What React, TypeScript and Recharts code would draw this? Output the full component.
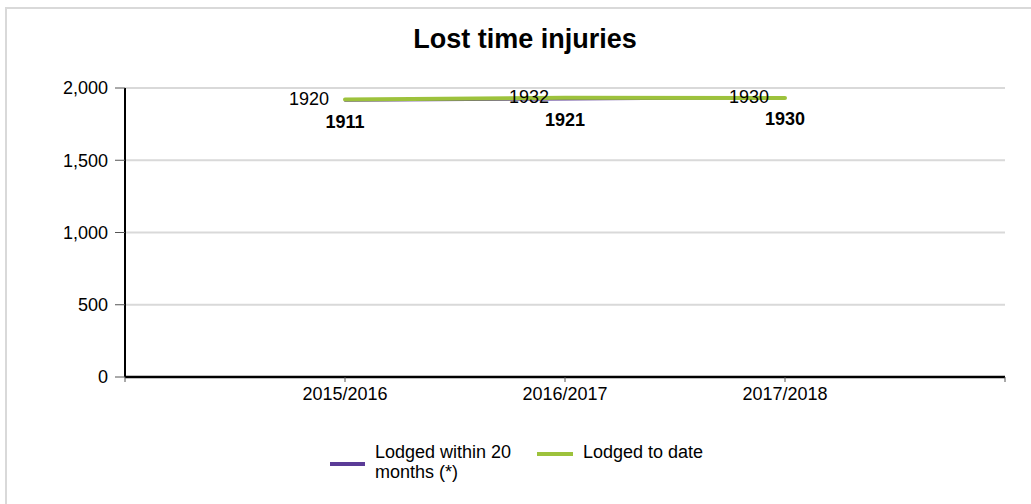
import React from "react";
import { LineChart, Line, XAxis, YAxis, CartesianGrid, Legend, LabelList } from "recharts";

const categories = ["2015/2016", "2016/2017", "2017/2018"];
const lodgedWithin20 = [1911, 1921, 1930];
const lodgedToDate = [1920, 1932, 1930];
const yTicks = [0, 500, 1000, 1500, 2000];

const PURPLE = "#5b3b97";
const GREEN = "#9dc23c";
const FONT = "'Liberation Sans', Arial, sans-serif";

const data = categories.map((name, i) => ({
  x: i + 1,
  name,
  within20: lodgedWithin20[i],
  toDate: lodgedToDate[i],
}));

function GreenLabel(props: any) {
  const { x, y, value } = props;
  return (
    <text x={x - 16} y={y - 1} textAnchor="end" dominantBaseline="central" fontSize={18} fontFamily={FONT} fill="#000">
      {value}
    </text>
  );
}

function PurpleLabel(props: any) {
  const { x, y, value } = props;
  return (
    <text x={x} y={y + 21} textAnchor="middle" dominantBaseline="central" fontSize={18} fontWeight="bold" fontFamily={FONT} fill="#000">
      {value}
    </text>
  );
}

function LegendBox() {
  const text = { position: "absolute" as const, fontSize: 18, fontFamily: FONT, color: "#000", lineHeight: "20px", textAlign: "left" as const };
  return (
    <div style={{ position: "relative", width: 1031, height: 50 }}>
      <div style={{ position: "absolute", left: 330, top: 18, width: 35, height: 4, background: PURPLE }} />
      <div style={{ ...text, left: 375, top: -2, width: 150 }}>Lodged within 20 months (*)</div>
      <div style={{ position: "absolute", left: 537, top: 8, width: 36, height: 4, background: GREEN }} />
      <div style={{ ...text, left: 583, top: -2, whiteSpace: "nowrap" }}>Lodged to date</div>
    </div>
  );
}

export default function App() {
  return (
    <div style={{ position: "absolute", left: 0, top: 0, width: 1031, height: 504, overflow: "hidden", background: "#fff" }}>
      <div style={{ position: "absolute", left: 5, top: 7, width: 1060, height: 520, border: "2px solid #d9d9d9" }} />
      <div
        style={{
          position: "absolute",
          left: 0,
          top: 24,
          width: 1050,
          textAlign: "center",
          fontFamily: FONT,
          fontWeight: "bold",
          fontSize: 27,
          color: "#000",
        }}
      >
        Lost time injuries
      </div>
      <div style={{ position: "absolute", left: 0, top: 0 }}>
        <LineChart width={1031} height={504} data={data} margin={{ top: 88, right: 26, left: 0, bottom: 10 }}>
          <CartesianGrid vertical={false} stroke="#d9d9d9" strokeWidth={2} />
          <XAxis
            dataKey="x"
            type="number"
            domain={[0, 4]}
            ticks={[0, 1, 2, 3, 4]}
            tickFormatter={(v) => categories[v - 1] ?? ""}
            height={67}
            stroke="#000"
            axisLine={{ stroke: "#000", strokeWidth: 2.5 }}
            tickLine={{ stroke: "#555", strokeWidth: 1 }}
            tickSize={5}
            tickMargin={5}
            tick={{ fill: "#000", fontSize: 18, fontFamily: FONT }}
          />
          <YAxis
            domain={[0, 2000]}
            ticks={yTicks}
            width={125}
            tickFormatter={(v) => v.toLocaleString("en-US")}
            axisLine={{ stroke: "#000", strokeWidth: 2 }}
            tickLine={{ stroke: "#555", strokeWidth: 1 }}
            tickSize={10}
            tickMargin={7}
            tick={{ fill: "#000", fontSize: 18, fontFamily: FONT }}
          />
          <Legend verticalAlign="bottom" content={<LegendBox />} wrapperStyle={{ left: 0, width: 1031, height: 50 }} />
          <Line
            type="linear"
            dataKey="within20"
            name="Lodged within 20 months (*)"
            stroke={PURPLE}
            strokeWidth={2}
            strokeLinecap="round"
            dot={false}
            activeDot={false}
            isAnimationActive={false}
          >
            <LabelList dataKey="within20" content={<PurpleLabel />} />
          </Line>
          <Line
            type="linear"
            dataKey="toDate"
            name="Lodged to date"
            stroke={GREEN}
            strokeWidth={4}
            strokeLinecap="round"
            dot={false}
            activeDot={false}
            isAnimationActive={false}
          >
            <LabelList dataKey="toDate" content={<GreenLabel />} />
          </Line>
        </LineChart>
      </div>
    </div>
  );
}
